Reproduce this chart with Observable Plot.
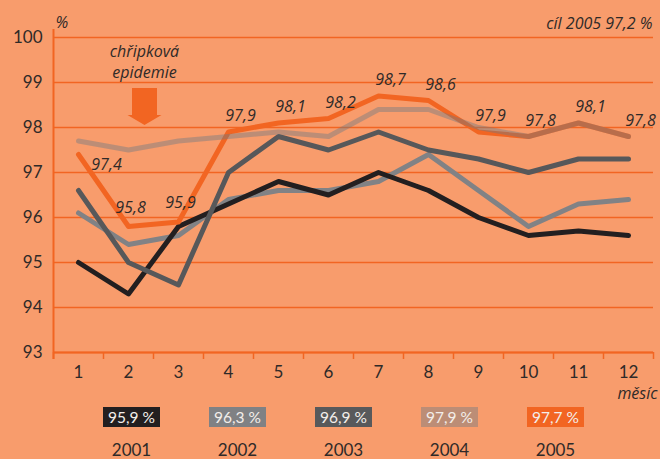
<!DOCTYPE html>
<html><head><meta charset="utf-8">
<script src="https://cdn.jsdelivr.net/npm/d3@7"></script>
<script src="https://cdn.jsdelivr.net/npm/@observablehq/plot@0.6"></script>
<style>
html,body{margin:0;padding:0;background:#f89c6c;}
#chart{width:660px;height:400px;}
#chart svg{display:block;}
#legend{position:relative;width:660px;height:59px;font-family:Lato,sans-serif;}
.box{position:absolute;top:7px;width:57px;height:20px;line-height:20px;text-align:center;color:#f3eeea;font-size:15.5px;}
.yr{position:absolute;top:42px;width:80px;text-align:center;color:#2f2a28;font-size:17px;line-height:16px}
</style></head><body>
<div id="chart"></div><div id="legend"></div>
<script>
const months = [1,2,3,4,5,6,7,8,9,10,11,12];
const years = [2001, 2002, 2003, 2004, 2005];
const v2001 = [95.0, 94.3, 95.8, 96.3, 96.8, 96.5, 97.0, 96.6, 96.0, 95.6, 95.7, 95.6];
const v2002 = [96.1, 95.4, 95.6, 96.4, 96.6, 96.6, 96.8, 97.4, 96.6, 95.8, 96.3, 96.4];
const v2003 = [96.6, 95.0, 94.5, 97.0, 97.8, 97.5, 97.9, 97.5, 97.3, 97.0, 97.3, 97.3];
const v2004 = [97.7, 97.5, 97.7, 97.8, 97.9, 97.8, 98.4, 98.4, 98.0, 97.8, 98.1, 97.8];
const v2005 = [97.4, 95.8, 95.9, 97.9, 98.1, 98.2, 98.7, 98.6, 97.9, 97.8, 98.1, 97.8];
const averages = ["95,9 %", "96,3 %", "96,9 %", "97,9 %", "97,7 %"];
const yTicks = [93, 94, 95, 96, 97, 98, 99, 100];
const annotationText = "chřipková\nepidemie";
const targetText = "cíl 2005 97,2 %";
const unitText = "%";
const xTitle = "měsíc";

const ORANGE = "#f26522";
const FONT = "Lato, sans-serif";
const IFONT = "'Open Sans', sans-serif";
const TEXT = "#2f2a28";
const series = {2001: v2001, 2002: v2002, 2003: v2003, 2004: v2004, 2005: v2005};
const styles = {
  2001: {stroke: "#231f20", strokeOpacity: 1},
  2002: {stroke: "#818285", strokeOpacity: 1},
  2003: {stroke: "#57585a", strokeOpacity: 1},
  2004: {stroke: "#6a7985", strokeOpacity: 0.42},
  2005: {stroke: ORANGE, strokeOpacity: 1}
};
const rows = years.flatMap(yr => months.map((m, i) => ({year: yr, month: m, value: series[yr][i]})));
const bounds = d3.range(0.5, 13, 1);
const fmt = v => v.toFixed(1).replace(".", ",");
const drawOrder = [2002, 2001, 2003, 2005, 2004];
const lab2005 = rows.filter(d => d.year === 2005);
const ital = {fontStyle: "italic", fontFamily: IFONT, fontWeight: 400, fill: TEXT};

function arrowMark(index, scales) {
  const x = scales.x(2.33), y = scales.y(98.044);
  const p = document.createElementNS("http://www.w3.org/2000/svg", "path");
  p.setAttribute("d", `M${x-12.5},${y-37}L${x+12.5},${y-37}L${x+12.5},${y-10}L${x+17},${y-10}L${x},${y}L${x-17},${y-10}L${x-12.5},${y-10}Z`);
  p.setAttribute("fill", ORANGE);
  return p;
}

const plot = Plot.plot({
  width: 660, height: 400,
  marginTop: 37, marginBottom: 48, marginLeft: 53, marginRight: 7,
  style: {background: "transparent", fontFamily: FONT, color: TEXT, overflow: "visible"},
  x: {domain: [0.5, 12.5]},
  y: {domain: [93, 100]},
  marks: [
    Plot.gridY(yTicks, {stroke: ORANGE, strokeOpacity: 1, strokeWidth: 1.5}),
    Plot.ruleY([93], {stroke: ORANGE, strokeWidth: 2}),
    Plot.ruleX(bounds, {y1: 93, y2: 92.844, stroke: ORANGE, strokeWidth: 1.5}),
    Plot.ruleX([0.5], {y1: 92.844, y2: 100.178, stroke: ORANGE, strokeWidth: 2}),
    Plot.axisY(yTicks, {tickSize: 0, tickPadding: 11, fontSize: 17, label: null, fill: TEXT}),
    Plot.axisX(months, {tickSize: 0, tickPadding: 13, fontSize: 17, label: null, fill: TEXT}),
    ...drawOrder.map(yr => Plot.line(rows.filter(d => d.year === yr), {
      x: "month", y: "value", ...styles[yr], strokeWidth: 5,
      strokeLinecap: "round", strokeLinejoin: "round"
    })),
    Plot.text(lab2005.filter(d => d.month === 1), {x: "month", y: "value", text: d => fmt(d.value),
      dx: 28, dy: 10, fontSize: 16, ...ital}),
    Plot.text(lab2005.filter(d => d.month === 2 || d.month === 3), {x: "month", y: "value", text: d => fmt(d.value),
      dx: 2, dy: -19, fontSize: 16, ...ital}),
    Plot.text(lab2005.filter(d => d.month > 3), {x: "month", y: "value", text: d => fmt(d.value),
      dx: 12, dy: -16, fontSize: 16, ...ital}),
    arrowMark,
    Plot.text([annotationText], {frameAnchor: "top-left", dx: 91, dy: 23, lineAnchor: "middle",
      textAnchor: "middle", lineHeight: 1.35, fontSize: 16, ...ital}),
    Plot.text([unitText], {frameAnchor: "top-left", dx: 2, dy: -21, textAnchor: "start",
      fontSize: 16, ...ital}),
    Plot.text([targetText], {frameAnchor: "top-right", dx: -1, dy: -20, textAnchor: "end",
      fontSize: 16, ...ital}),
    Plot.text([xTitle], {frameAnchor: "bottom-right", dx: 4, dy: 46, textAnchor: "end",
      fontSize: 16, ...ital})
  ]
});
document.getElementById("chart").append(plot);

const legend = document.getElementById("legend");
const boxFill = {2001: "#231f20", 2002: "#808184", 2003: "#58595b", 2004: "rgba(106,121,133,0.42)", 2005: ORANGE};
years.forEach((yr, i) => {
  const left = 103 + 106 * i;
  const b = document.createElement("div");
  b.className = "box";
  b.style.left = left + "px";
  b.style.background = boxFill[yr];
  b.textContent = averages[i];
  legend.append(b);
  const t = document.createElement("div");
  t.className = "yr";
  t.style.left = (left + 28.5 - 40) + "px";
  t.textContent = String(yr);
  legend.append(t);
});
</script></body></html>
